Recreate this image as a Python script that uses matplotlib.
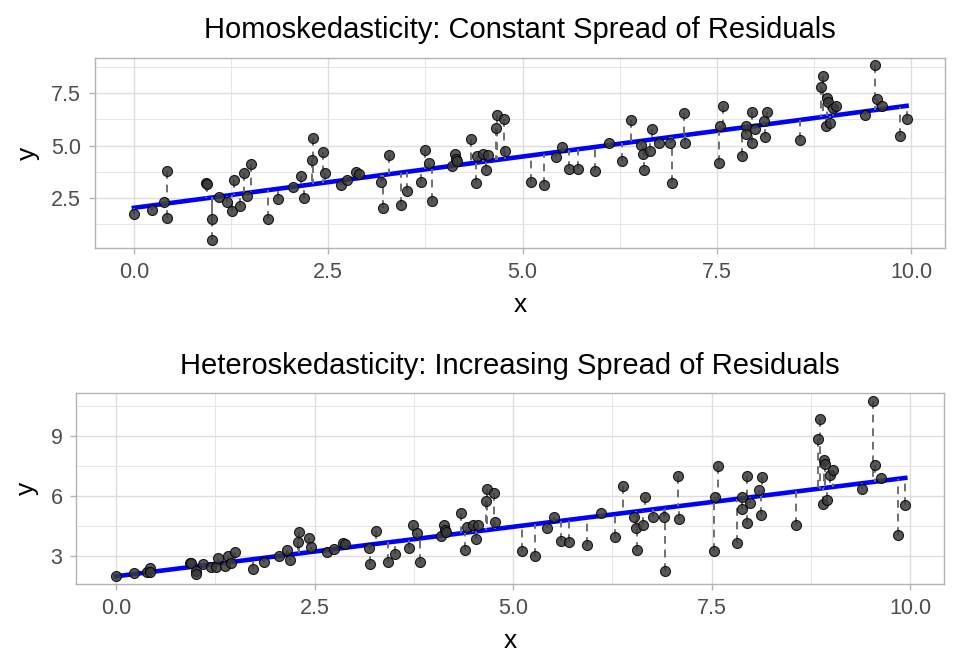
import numpy as np
import matplotlib.pyplot as plt
from matplotlib.ticker import MultipleLocator

plt.rcParams['font.family'] = ['Liberation Sans', 'DejaVu Sans']

# shared x values
x = [0.00, 0.23, 0.39, 0.43, 0.43, 0.93, 0.94, 1.01, 1.01, 1.09,
     1.20, 1.26, 1.29, 1.37, 1.41, 1.45, 1.50, 1.73, 1.86, 2.05,
     2.15, 2.19, 2.31, 2.29, 2.43, 2.46, 2.66, 2.74, 2.86, 2.89,
     3.18, 3.20, 3.28, 3.43, 3.51, 3.69, 3.74, 3.79, 3.83, 4.09,
     4.13, 4.14, 4.16, 4.34, 4.40, 4.42, 4.49, 4.53, 4.56, 4.66,
     4.67, 4.76, 4.77, 5.11, 5.28, 5.43, 5.51, 5.60, 5.71, 5.93,
     6.11, 6.28, 6.39, 6.52, 6.55, 6.56, 6.64, 6.66, 6.76, 6.90,
     6.92, 7.08, 7.09, 7.53, 7.54, 7.58, 7.82, 7.88, 7.88, 7.95,
     7.95, 7.99, 8.10, 8.12, 8.14, 8.57, 8.84, 8.86, 8.90, 8.92,
     8.93, 8.95, 8.99, 9.03, 9.40, 9.54, 9.56, 9.63, 9.85, 9.94]

# homoskedastic y
y_homo = [1.74, 1.93, 2.31, 3.76, 1.52, 3.20, 3.15, 1.47, 0.47, 2.52,
          2.30, 1.85, 3.36, 2.12, 3.71, 2.60, 4.14, 1.47, 2.42, 3.00,
          3.52, 2.47, 5.38, 4.32, 4.68, 3.71, 3.09, 3.33, 3.73, 3.66,
          3.28, 2.03, 4.57, 2.17, 2.82, 3.25, 4.81, 4.16, 2.33, 4.03,
          4.60, 4.36, 4.27, 5.33, 3.20, 4.48, 4.60, 3.81, 4.55, 5.86,
          6.45, 6.26, 4.75, 3.28, 3.09, 4.46, 4.92, 3.86, 3.86, 3.76,
          5.14, 4.24, 6.24, 5.03, 4.62, 3.81, 4.76, 5.81, 5.11, 5.10,
          3.19, 6.57, 5.10, 4.16, 5.92, 6.91, 4.48, 5.95, 5.56, 5.14,
          6.62, 5.79, 6.19, 5.43, 6.62, 5.29, 7.80, 8.34, 5.95, 7.26,
          7.10, 6.10, 6.81, 6.91, 6.46, 8.86, 7.21, 6.88, 5.48, 6.29]

# heteroskedastic y
y_hetero = [2.03, 2.15, 2.23, 2.40, 2.20, 2.68, 2.66, 2.28, 2.10, 2.62,
            2.48, 2.45, 2.90, 2.52, 3.03, 2.68, 3.20, 2.37, 2.73, 3.03,
            3.30, 2.82, 4.23, 3.73, 3.93, 3.48, 3.20, 3.38, 3.65, 3.60,
            3.40, 2.60, 4.28, 2.70, 3.13, 3.43, 4.58, 4.15, 2.70, 4.03,
            4.58, 4.32, 4.23, 5.18, 3.33, 4.48, 4.57, 3.85, 4.55, 5.78,
            6.35, 6.18, 4.73, 3.27, 3.03, 4.43, 4.95, 3.78, 3.72, 3.55,
            5.18, 3.98, 6.52, 4.97, 4.43, 3.32, 4.58, 5.98, 4.98, 4.98,
            2.28, 7.03, 4.87, 3.28, 5.98, 7.53, 3.68, 5.95, 5.35, 4.68,
            7.02, 5.65, 6.32, 5.08, 6.97, 4.58, 8.88, 9.87, 5.62, 7.82,
            7.62, 5.82, 7.08, 7.32, 6.35, 10.77, 7.58, 6.90, 4.08, 5.58]

titles = ['Homoskedasticity: Constant Spread of Residuals',
          'Heteroskedasticity: Increasing Spread of Residuals']

fig = plt.figure(figsize=(9.6, 6.72), dpi=100)
ax1 = fig.add_axes([0.099, 0.631, 0.885, 0.283])
ax2 = fig.add_axes([0.0795, 0.1305, 0.904, 0.2842])

xa = np.array(x)
order = np.argsort(xa)

panels = [(ax1, y_homo, (0.1, 9.2), 2.5), (ax2, y_hetero, (1.6, 11.15), 3)]
for (ax, yv, ylim, ystep), title in zip(panels, titles):
    ya = np.array(yv)
    slope, icpt = np.polyfit(xa, ya, 1)
    fit = icpt + slope * xa

    ax.plot(xa[order], fit[order], color='blue', lw=3.3, zorder=2)
    ax.vlines(xa, ya, fit, colors='#707070', linestyles=(0, (4, 3)), lw=1.4, zorder=3)
    ax.scatter(xa, ya, s=52, facecolor='#3a3a3a', edgecolor='black',
               linewidth=0.8, alpha=0.85, zorder=4)

    ax.set_xlim(-0.5, 10.43)
    ax.set_ylim(*ylim)
    ax.xaxis.set_major_locator(MultipleLocator(2.5))
    ax.xaxis.set_minor_locator(MultipleLocator(1.25))
    ax.yaxis.set_major_locator(MultipleLocator(ystep))
    ax.yaxis.set_minor_locator(MultipleLocator(ystep / 2))
    if ystep == 2.5:
        ax.yaxis.set_major_formatter(lambda v, p: f'{v:.1f}')
    else:
        ax.yaxis.set_major_formatter(lambda v, p: f'{v:.0f}')
    ax.xaxis.set_major_formatter(lambda v, p: f'{v:.1f}')

    ax.grid(which='major', color='#dedede', lw=1.0)
    ax.grid(which='minor', color='#e6e6e6', lw=0.7)
    ax.set_axisbelow(True)
    for sp in ax.spines.values():
        sp.set_color('#b3b3b3')
        sp.set_linewidth(1.0)
    ax.tick_params(which='major', length=4, color='#b3b3b3', labelsize=15.5,
                   labelcolor='#4d4d4d', width=1.0, pad=6)
    ax.tick_params(which='minor', length=0)

    ax.set_title(title, fontsize=21, pad=14)
    ax.set_xlabel('x', fontsize=19, labelpad=7)
    ax.set_ylabel('y', fontsize=19, labelpad=8)

fig.savefig('out.png', dpi=100)
